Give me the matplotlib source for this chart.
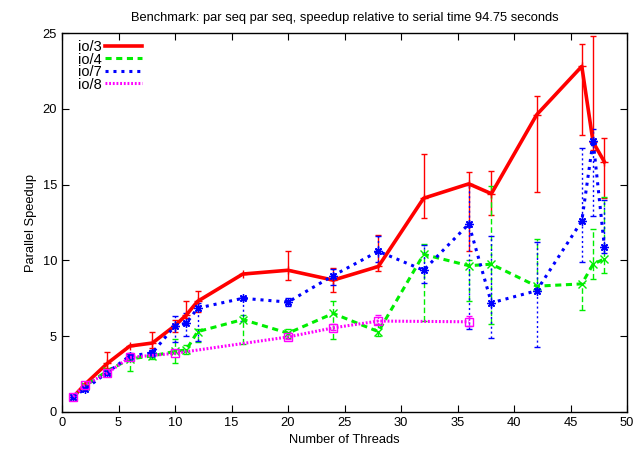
import matplotlib
matplotlib.use("Agg")
import matplotlib.pyplot as plt
import numpy as np

plt.rcParams['font.family'] = ['Liberation Sans', 'DejaVu Sans']
plt.rcParams['font.size'] = 9.3

threads = [1, 2, 4, 6, 8, 10, 11, 12, 16, 20, 24, 28, 32, 36, 38, 42, 46, 47, 48]

# io/3
io3 = [1.0, 1.8, 3.2, 4.35, 4.55, 5.7, 6.4, 7.3, 9.1, 9.35, 8.7, 9.6, 14.1, 15.05, 14.4, 19.6, 22.8, 17.8, 16.5]
io3_lo = [None, None, 2.9, None, 4.2, 5.3, 6.2, 6.6, None, 8.7, 7.9, 9.3, 12.8, 10.6, 13.0, 14.5, 18.3, 17.3, 14.1]
io3_hi = [None, None, 3.95, None, 5.3, 6.1, 7.3, 8.0, None, 10.6, 9.5, 11.7, 17.0, 15.85, 15.9, 20.85, 24.3, 24.8, 18.1]

# io/4
io4 = [1.0, 1.7, 2.7, 3.5, 3.7, 4.0, 4.1, 5.3, 6.1, 5.2, 6.5, 5.3, 10.4, 9.65, 9.75, 8.3, 8.45, 9.75, 10.1]
io4_lo = [None, None, None, 2.7, 3.5, 3.2, 3.8, 4.6, 4.5, 4.9, 4.8, 5.0, 6.0, 7.3, 5.8, 8.0, 6.7, 8.8, 9.2]
io4_hi = [None, None, None, 3.8, 3.9, 4.8, 4.4, 5.5, 6.4, 5.5, 7.3, 5.8, 11.1, 10.0, 14.9, 11.4, 8.5, 12.1, 14.2]

# io/7
io7 = [1.0, 1.5, 2.6, 3.7, 3.9, 5.7, 5.85, 6.85, 7.5, 7.25, 9.0, 10.6, 9.35, 12.4, 7.2, 8.0, 12.6, 17.9, 10.9]
io7_lo = [None, None, None, 3.4, 3.6, 4.6, 5.0, 4.7, 6.0, 7.0, 8.4, 9.9, 8.5, 5.5, 4.9, 4.3, 9.9, 12.9, 10.5]
io7_hi = [None, None, None, 3.9, 4.1, 6.3, 6.5, 7.2, 7.6, 7.5, 9.4, 11.6, 11.0, 15.0, 11.6, 11.2, 17.4, 18.7, 14.0]

# io/8
threads8 = [1, 2, 4, 6, 10, 20, 24, 28, 36]
io8 = [1.0, 1.78, 2.57, 3.6, 3.87, 4.95, 5.55, 6.0, 5.95]
io8_lo = [None, None, None, None, None, 4.8, 5.4, 5.8, 5.7]
io8_hi = [None, None, None, None, None, 5.3, 5.8, 6.4, 6.3]

series = [
    ("io/3", threads, io3, io3_lo, io3_hi, "#ff0000", "-", "+", 2.6),
    ("io/4", threads, io4, io4_lo, io4_hi, "#00ee00", (0, (2.0, 1.5)), "x", 2.2),
    ("io/7", threads, io7, io7_lo, io7_hi, "#0000ff", (0, (1.0, 1.6)), (8, 2, 0), 2.2),
    ("io/8", threads8, io8, io8_lo, io8_hi, "#ff00ff", (0, (0.6, 0.6)), "s", 2.2),
]
bar_styles = ["-", (0, (4, 2)), (0, (1.5, 2)), (0, (1, 1))]

fig = plt.figure(figsize=(6.35, 4.5), dpi=100)
ax = fig.add_axes([62 / 635, 1 - 412 / 450, (627 - 62) / 635, (412 - 33) / 450])

for (name, xs, ys, lo, hi, col, ls, mk, lw), bls in zip(series, bar_styles):
    ex = [x for x, l in zip(xs, lo) if l is not None]
    ey = [y for y, l in zip(ys, lo) if l is not None]
    el = [y - l for y, l in zip(ys, lo) if l is not None]
    eh = [h - y for y, h in zip(ys, hi) if h is not None]
    eb = ax.errorbar(ex, ey, yerr=[el, eh], fmt='none', ecolor=col,
                     elinewidth=1.0, capsize=2.5, capthick=1.0, zorder=2)
    eb[2][0].set_linestyle(bls)
    mfc = 'none' if mk == 's' else col
    ax.plot(xs, ys, color=col, linestyle=ls, linewidth=lw, marker=mk,
            markersize=6, markerfacecolor=mfc, markeredgecolor=col,
            markeredgewidth=1.0, label=name, zorder=3)

ax.set_xlim(0, 50)
ax.set_ylim(0, 25)
ax.set_xticks(np.arange(0, 51, 5))
ax.set_yticks(np.arange(0, 26, 5))
ax.tick_params(direction='in', top=True, right=True, length=5, width=0.8)
for s in ax.spines.values():
    s.set_linewidth(1.0)

ax.set_xlabel("Number of Threads")
ax.set_ylabel("Parallel Speedup")
ax.set_title("Benchmark: par seq par seq, speedup relative to serial time 94.75 seconds",
             fontsize=9.3, pad=9)

leg = ax.legend(loc='upper left', bbox_to_anchor=(0.018, 0.997), frameon=False,
                markerfirst=False, fontsize=10.5, handlelength=2.5,
                handletextpad=0.25, labelspacing=-0.1, borderaxespad=0.0,
                alignment='right')
for h in leg.legend_handles:
    h.set_marker('')

fig.savefig("out.png", dpi=100)
